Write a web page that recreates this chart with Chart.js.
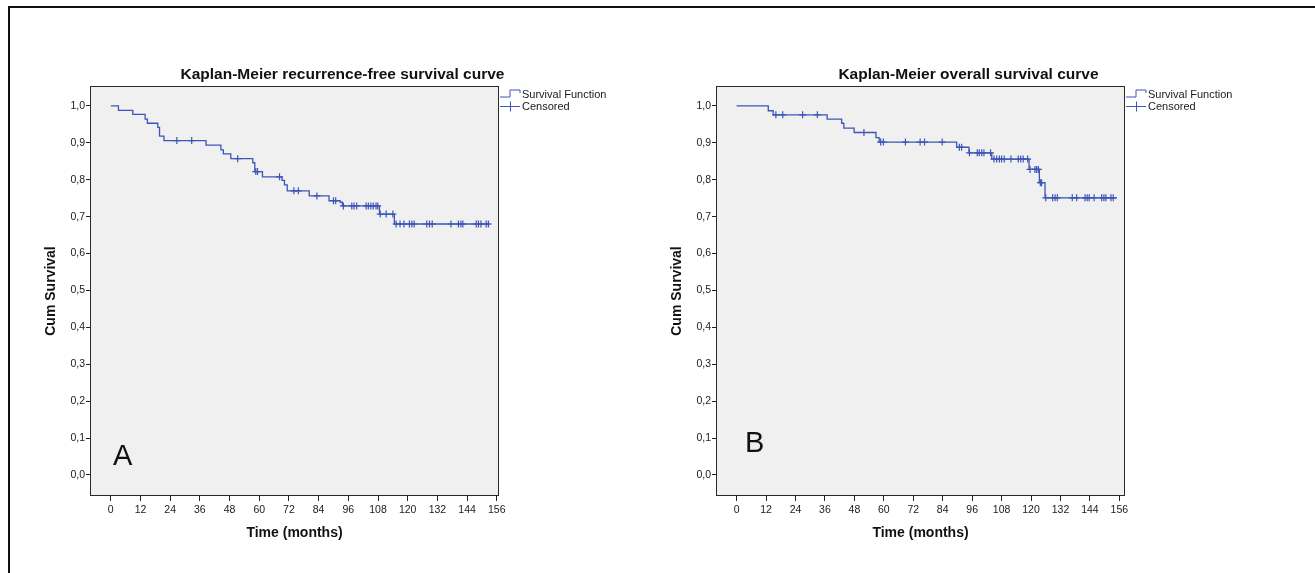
<!DOCTYPE html>
<html lang="en">
<head>
<meta charset="UTF-8">
<title>Kaplan-Meier survival curves</title>
<script src="https://cdn.jsdelivr.net/npm/chart.js"></script>
<style>
  body { margin: 0; width: 1315px; height: 573px; overflow: hidden; background: #fff; }
  .frame { position: absolute; left: 8px; top: 6px; width: 1400px; height: 700px; border: 2px solid #111; }
  canvas { position: absolute; }
  #chartA { left: 10px; top: 10px; }
  #chartB { left: 636px; top: 10px; }
</style>
</head>
<body>
<div class="frame"></div>
<canvas id="chartA" width="620" height="550"></canvas>
<canvas id="chartB" width="650" height="550"></canvas>

<script>
// axis ticks
const timeTicks = [0, 12, 24, 36, 48, 60, 72, 84, 96, 108, 120, 132, 144, 156];
const survTicks = [0, 0.1, 0.2, 0.3, 0.4, 0.5, 0.6, 0.7, 0.8, 0.9, 1.0];

// A - recurrence-free survival: event times (months) and survival after each step
const rfsTimes = [0, 3.1, 8.9, 13.9, 14.8, 19.0, 19.7, 21.5, 38.5, 44.5, 45.5, 48.5, 57.4, 58.2,
                  61.3, 69.2, 70.2, 71.3, 80.2, 88.2, 92.7, 93.6, 108.6, 114.6];
const rfsSurv = [1.0, 0.988, 0.977, 0.964, 0.953, 0.942, 0.918, 0.906, 0.894, 0.881, 0.870, 0.857, 0.846, 0.822,
                 0.808, 0.798, 0.786, 0.770, 0.756, 0.743, 0.739, 0.729, 0.707, 0.680];
const rfsLast = 153.3;
const rfsCensored = [26.7, 32.7, 51.3, 58.6, 59.3, 68.2, 74.0, 75.8, 83.3, 90.0, 90.9, 94.0, 97.4, 98.3, 99.4,
                     103.2, 104.1, 105.1, 106.1, 107.2, 107.9, 108.9, 111.3, 114.0, 115.3, 116.9, 118.5,
                     120.7, 121.7, 122.6, 127.7, 128.8, 129.9, 137.5, 140.5, 141.5, 142.3, 147.7, 148.6,
                     149.6, 151.7, 152.6];

// B - overall survival
const osTimes = [0, 12.9, 14.9, 36.9, 42.8, 43.7, 47.9, 56.8, 58.1, 89.7, 94.7, 104.0, 119.2, 123.4, 125.7];
const osSurv = [1.0, 0.987, 0.976, 0.964, 0.953, 0.940, 0.928, 0.914, 0.902, 0.888, 0.873, 0.856, 0.828, 0.792, 0.751];
const osLast = 154.9;
const osCensored = [16.0, 18.8, 26.9, 32.9, 51.9, 58.7, 59.8, 68.8, 74.8, 76.6, 83.8, 90.8, 91.7, 94.9, 98.1,
                    98.9, 99.9, 100.8, 103.5, 104.9, 106.0, 107.1, 108.0, 109.1, 111.8, 114.8, 115.8, 116.8,
                    118.6, 119.6, 121.6, 122.3, 123.0, 123.8, 124.3, 126.0, 128.8, 129.8, 130.7, 136.8,
                    138.6, 142.0, 142.9, 143.7, 145.7, 148.8, 149.7, 150.5, 152.6, 153.5];

const BLUE = '#3d55b8';
const FONT = '"Liberation Sans", Arial, Helvetica, sans-serif';
Chart.defaults.font.family = FONT;

// value of the step curve at time t
function survAt(times, surv, t) {
    let s = surv[0];
    for (let i = 0; i < times.length; i++) {
        if (times[i] <= t) s = surv[i];
    }
    return s;
}

// plot background, frame, title, legend and panel letter
const panelDecor = {
    id: 'panelDecor',
    beforeDraw(chart, args, opts) {
        const a = chart.chartArea, ctx = chart.ctx;
        ctx.save();
        ctx.fillStyle = '#f0f0f0';
        ctx.fillRect(a.left, a.top, a.right - a.left, a.bottom - a.top);
        ctx.restore();
    },
    afterDraw(chart, args, opts) {
        const a = chart.chartArea, ctx = chart.ctx;
        ctx.save();
        ctx.strokeStyle = '#2a2a2a';
        ctx.lineWidth = 1;
        ctx.strokeRect(a.left + 0.5, a.top + 0.5, a.right - a.left - 1, a.bottom - a.top - 1);

        // title
        ctx.fillStyle = '#111';
        ctx.font = 'bold 15.5px ' + FONT;
        ctx.textAlign = 'center';
        ctx.textBaseline = 'alphabetic';
        ctx.fillText(opts.title, (a.left + a.right) / 2 + 48, a.top - 7);

        // legend
        const lx = a.right + 1;
        const y1 = a.top + 8.5, y2 = a.top + 20.5;
        ctx.strokeStyle = BLUE;
        ctx.beginPath();
        ctx.moveTo(lx, y1 + 2.5);
        ctx.lineTo(lx + 10, y1 + 2.5);
        ctx.lineTo(lx + 10, y1 - 4.5);
        ctx.lineTo(lx + 20, y1 - 4.5);
        ctx.lineTo(lx + 20, y1 - 1.5);
        ctx.moveTo(lx, y2);
        ctx.lineTo(lx + 20, y2);
        ctx.moveTo(lx + 10.5, y2 - 5);
        ctx.lineTo(lx + 10.5, y2 + 5);
        ctx.stroke();
        ctx.fillStyle = '#1a1a1a';
        ctx.font = '11px ' + FONT;
        ctx.textAlign = 'left';
        ctx.textBaseline = 'middle';
        ctx.fillText('Survival Function', lx + 22, y1);
        ctx.fillText('Censored', lx + 22, y2);

        // panel letter
        ctx.font = '29px ' + FONT;
        ctx.textBaseline = 'alphabetic';
        ctx.fillStyle = '#111';
        ctx.fillText(opts.letter, a.left + opts.letterDx, a.bottom - opts.letterDy);
        ctx.restore();
    }
};

function makeChart(id, cfg) {
    const canvas = document.getElementById(id);
    const line = cfg.times.map((t, i) => ({ x: t, y: cfg.surv[i] }));
    line.push({ x: cfg.last, y: cfg.surv[cfg.surv.length - 1] });
    const marks = cfg.censored.map(t => ({ x: t, y: survAt(cfg.times, cfg.surv, t) }));
    const tickFont = { size: 10.5 };

    return new Chart(canvas, {
        type: 'line',
        data: {
            datasets: [
                {
                    label: 'Survival Function',
                    data: line,
                    stepped: true,
                    borderColor: BLUE,
                    borderWidth: 1.3,
                    pointRadius: 0,
                    fill: false
                },
                {
                    label: 'Censored',
                    data: marks,
                    showLine: false,
                    pointStyle: 'cross',
                    pointRadius: 3.5,
                    pointBorderWidth: 1.2,
                    borderColor: BLUE,
                    backgroundColor: BLUE
                }
            ]
        },
        options: {
            responsive: false,
            animation: false,
            devicePixelRatio: 1,
            layout: { padding: { left: 20, top: 76, right: canvas.width - 489, bottom: 14 } },
            plugins: {
                legend: { display: false },
                tooltip: { enabled: false },
                panelDecor: { title: cfg.title, letter: cfg.letter, letterDx: cfg.letterDx, letterDy: cfg.letterDy }
            },
            scales: {
                x: {
                    type: 'linear',
                    min: cfg.xMin,
                    max: cfg.xMax,
                    afterBuildTicks: ax => { ax.ticks = timeTicks.map(v => ({ value: v })); },
                    afterFit: ax => { ax.height = 50; },
                    border: { display: false },
                    grid: { drawOnChartArea: false, drawTicks: true, tickLength: 5, color: '#222' },
                    ticks: { padding: 3, color: '#1a1a1a', font: tickFont, maxRotation: 0, autoSkip: false,
                             callback: v => String(v) },
                    title: { display: true, text: 'Time (months)', color: '#111',
                             font: { size: 14, weight: 'bold' }, padding: { top: 0, bottom: 4 } }
                },
                y: {
                    type: 'linear',
                    min: -0.057,
                    max: 1.054,
                    afterBuildTicks: ax => { ax.ticks = survTicks.map(v => ({ value: v })); },
                    afterFit: ax => { ax.width = 60; },
                    border: { display: false },
                    grid: { drawOnChartArea: false, drawTicks: true, tickLength: 4, color: '#222' },
                    ticks: { padding: 1, color: '#1a1a1a', font: tickFont,
                             callback: v => v.toFixed(1).replace('.', ',') },
                    title: { display: true, text: 'Cum Survival', color: '#111',
                             font: { size: 14, weight: 'bold' }, padding: { top: 13, bottom: 0 } }
                }
            }
        },
        plugins: [panelDecor]
    });
}

makeChart('chartA', {
    title: 'Kaplan-Meier recurrence-free survival curve',
    letter: 'A', letterDx: 23, letterDy: 31,
    times: rfsTimes, surv: rfsSurv, last: rfsLast, censored: rfsCensored,
    xMin: -8.4, xMax: 156.9
});

makeChart('chartB', {
    title: 'Kaplan-Meier overall survival curve',
    letter: 'B', letterDx: 29, letterDy: 44,
    times: osTimes, surv: osSurv, last: osLast, censored: osCensored,
    xMin: -8.4, xMax: 158.3
});
</script>
</body>
</html>
